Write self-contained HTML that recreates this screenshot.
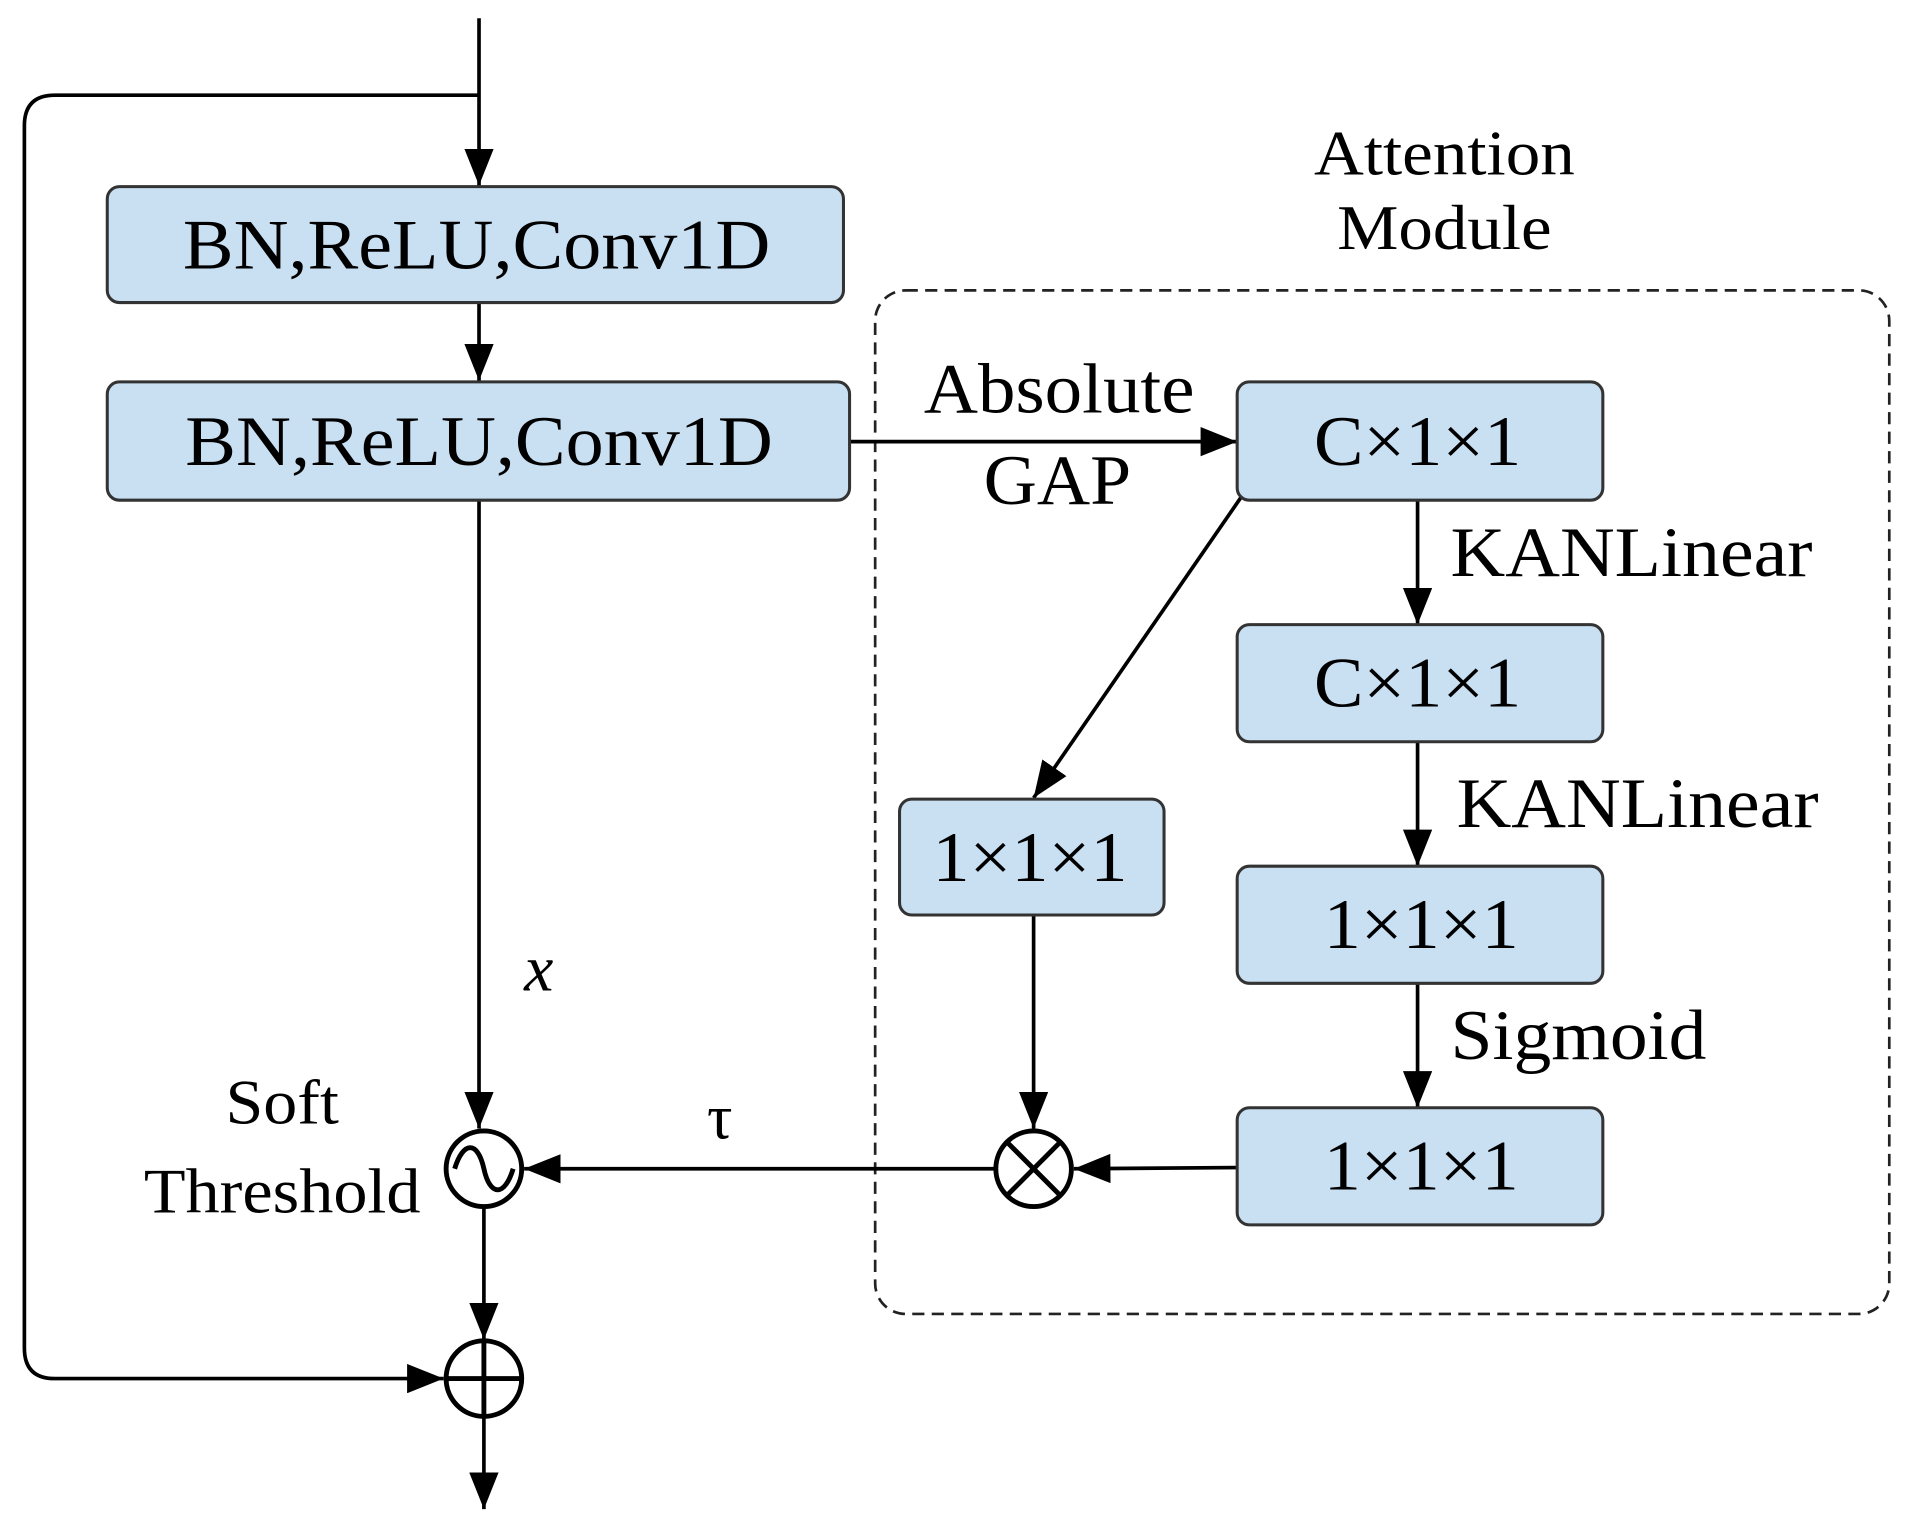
<!DOCTYPE html>
<html><head><meta charset="utf-8"><style>html,body{margin:0;padding:0;background:#fff}svg{display:block}</style></head><body>
<svg width="1910" height="1525" viewBox="0 0 1567 1250" preserveAspectRatio="none" xmlns="http://www.w3.org/2000/svg">
<defs>
<marker id="b" markerWidth="30" markerHeight="24" refX="30" refY="12" orient="auto" markerUnits="userSpaceOnUse"><path d="M0,0 L30,12 L0,24 z" fill="#000"/></marker></defs>
<g font-family="Liberation Serif, serif" fill="#000" stroke="none">
<rect x="718" y="238" width="832" height="839" rx="25" fill="none" stroke="#222" stroke-width="2.2" stroke-dasharray="10,6"/>
<g stroke="#000" stroke-width="3" fill="none">
<line x1="393" y1="15" x2="393" y2="152" marker-end="url(#b)"/>
<path d="M393,78 L45,78 Q20,78 20,103 L20,1105 Q20,1130 45,1130 L364,1130" marker-end="url(#b)"/>
<line x1="393" y1="248" x2="393" y2="312" marker-end="url(#b)"/>
<line x1="697" y1="362" x2="1015" y2="362" marker-end="url(#b)"/>
<line x1="1163" y1="410" x2="1163" y2="512" marker-end="url(#b)"/>
<line x1="1163" y1="608" x2="1163" y2="710" marker-end="url(#b)"/>
<line x1="1163" y1="806" x2="1163" y2="908" marker-end="url(#b)"/>
<line x1="1015" y1="957" x2="881" y2="958" marker-end="url(#b)"/>
<line x1="1020" y1="405" x2="848" y2="654" marker-end="url(#b)"/>
<line x1="848" y1="750" x2="848" y2="925" marker-end="url(#b)"/>
<line x1="816" y1="958" x2="430" y2="958" marker-end="url(#b)"/>
<line x1="393" y1="410" x2="393" y2="925" marker-end="url(#b)"/>
<line x1="397" y1="990" x2="397" y2="1098" marker-end="url(#b)"/>
<line x1="397" y1="1162" x2="397" y2="1237" marker-end="url(#b)"/>
</g>
<g fill="#c9dff2" stroke="#333" stroke-width="2.5">
<rect x="88" y="153" width="604" height="95" rx="10"/>
<rect x="88" y="313" width="609" height="97" rx="10"/>
<rect x="1015" y="313" width="300" height="97" rx="10"/>
<rect x="1015" y="512" width="300" height="96" rx="10"/>
<rect x="1015" y="710" width="300" height="96" rx="10"/>
<rect x="1015" y="908" width="300" height="96" rx="10"/>
<rect x="738" y="655" width="217" height="95" rx="10"/>
</g>
<g fill="#fff" stroke="#000" stroke-width="4">
<circle cx="397" cy="958" r="31"/>
<circle cx="848" cy="958" r="31"/>
<circle cx="397" cy="1130" r="31"/>
</g>
<g stroke="#000" stroke-width="4" fill="none">
<path d="M373,958 C380,935 392,935 397,958 C402,981 414,981 421,958"/>
<line x1="826" y1="936" x2="870" y2="980"/><line x1="870" y1="936" x2="826" y2="980"/>
<line x1="366" y1="1130" x2="428" y2="1130"/><line x1="397" y1="1099" x2="397" y2="1161"/>
</g>
<g font-size="58" lengthAdjust="spacingAndGlyphs">
<text x="150" y="220" textLength="482" lengthAdjust="spacingAndGlyphs">BN,ReLU,Conv1D</text>
<text x="152" y="381" textLength="482" lengthAdjust="spacingAndGlyphs">BN,ReLU,Conv1D</text>
<text x="1078" y="381" textLength="170" lengthAdjust="spacingAndGlyphs">C×1×1</text>
<text x="1078" y="579" textLength="170" lengthAdjust="spacingAndGlyphs">C×1×1</text>
<text x="1086" y="777" textLength="160" lengthAdjust="spacingAndGlyphs">1×1×1</text>
<text x="1086" y="975" textLength="160" lengthAdjust="spacingAndGlyphs">1×1×1</text>
<text x="765" y="722" textLength="160" lengthAdjust="spacingAndGlyphs">1×1×1</text>
<text x="758" y="338" textLength="222" lengthAdjust="spacingAndGlyphs">Absolute</text>
<text x="807" y="413" textLength="121" lengthAdjust="spacingAndGlyphs">GAP</text>
<text x="1078" y="143" font-size="52" textLength="214" lengthAdjust="spacingAndGlyphs">Attention</text>
<text x="1097" y="204" font-size="52" textLength="176" lengthAdjust="spacingAndGlyphs">Module</text>
<text x="185" y="921" font-size="52" textLength="93" lengthAdjust="spacingAndGlyphs">Soft</text>
<text x="118" y="994" font-size="52" textLength="227" lengthAdjust="spacingAndGlyphs">Threshold</text>
<text x="580" y="933" font-size="52">τ</text>
<text x="430" y="812" font-size="54" font-style="italic">x</text>
<text x="1190" y="472" textLength="297" lengthAdjust="spacingAndGlyphs">KANLinear</text>
<text x="1195" y="678" textLength="297" lengthAdjust="spacingAndGlyphs">KANLinear</text>
<text x="1190" y="868" textLength="210" lengthAdjust="spacingAndGlyphs">Sigmoid</text>
</g>
</g>
</svg>
</body></html>
